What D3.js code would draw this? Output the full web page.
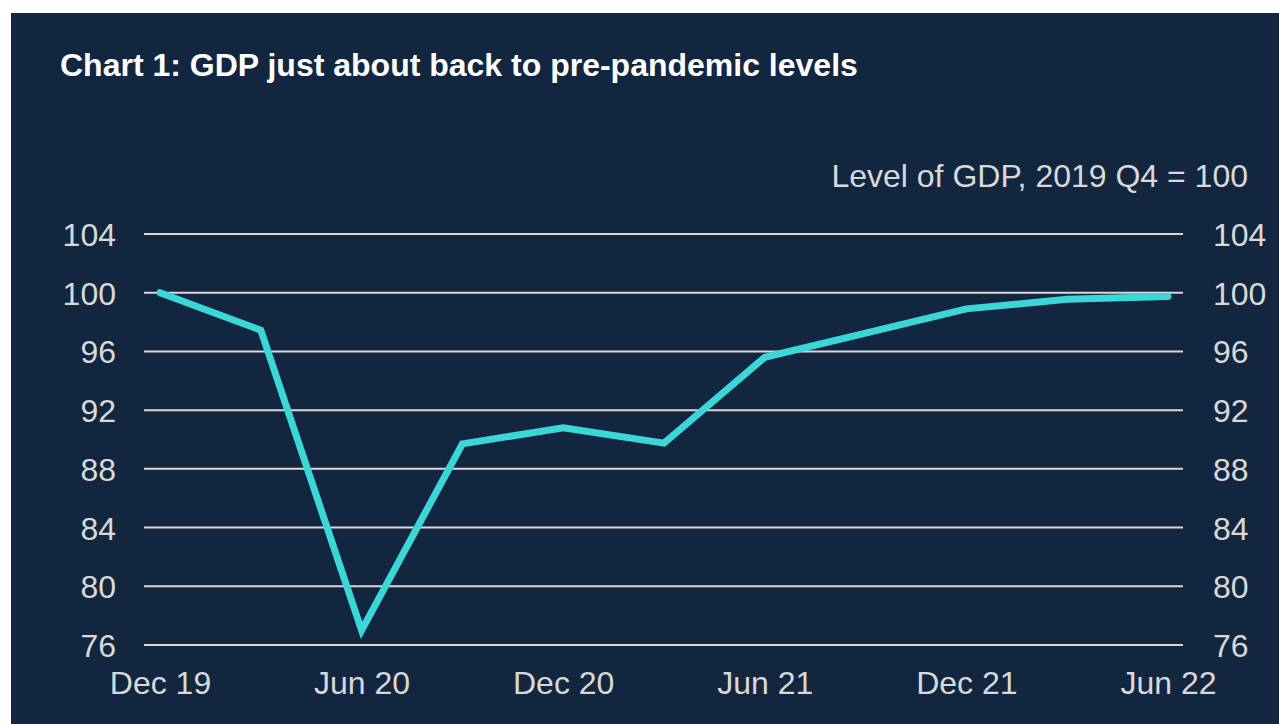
<!DOCTYPE html>
<html>
<head>
<meta charset="utf-8">
<script src="https://cdn.jsdelivr.net/npm/d3@7"></script>
<style>
  html, body { margin: 0; padding: 0; background: #ffffff; }
  svg { display: block; }
</style>
</head>
<body>
<svg id="chart" width="1279" height="724"></svg>
<script>
const categories = ["Dec 19","Mar 20","Jun 20","Sep 20","Dec 20","Mar 21","Jun 21","Sep 21","Dec 21","Mar 22","Jun 22"];
const gdpValues = [100.0, 97.45, 77.0, 89.7, 90.8, 89.75, 95.6, 97.25, 98.9, 99.55, 99.75];
const xTickLabels = ["Dec 19","Jun 20","Dec 20","Jun 21","Dec 21","Jun 22"];
const yTicks = [76, 80, 84, 88, 92, 96, 100, 104];
const titleText = "Chart 1: GDP just about back to pre-pandemic levels";
const unitText = "Level of GDP, 2019 Q4 = 100";

const svg = d3.select("#chart");
const W = 1279, H = 724;
const font = "'Liberation Sans', Arial, sans-serif";
const txtCol = "#d9d9d9";
const fs = 32;

svg.append("rect").attr("x", 11).attr("y", 13).attr("width", W - 11).attr("height", H - 13).attr("fill", "#13263f");

const gridLeft = 144, gridRight = 1183;
const x = d3.scalePoint().domain(categories).range([160, 1168]);
const y = d3.scaleLinear().domain([76, 104]).range([645, 234]);

// gridlines
const gGrid = svg.append("g");
gGrid.selectAll("line").data(yTicks).join("line")
  .attr("x1", gridLeft).attr("x2", gridRight)
  .attr("y1", d => y(d)).attr("y2", d => y(d))
  .attr("stroke", "#d9d9d9").attr("stroke-width", 2);

// axes
const leftAxis = svg.append("g").attr("transform", `translate(${gridLeft},0)`)
  .call(d3.axisLeft(y).tickValues(yTicks).tickSize(0).tickPadding(28));
const rightAxis = svg.append("g").attr("transform", `translate(${gridRight},0)`)
  .call(d3.axisRight(y).tickValues(yTicks).tickSize(0).tickPadding(30));
const bottomAxis = svg.append("g").attr("transform", `translate(0,${645})`)
  .call(d3.axisBottom(x).tickValues(xTickLabels).tickSize(0).tickPadding(26));

[leftAxis, rightAxis, bottomAxis].forEach(a => {
  a.select(".domain").remove();
  a.selectAll("text").attr("fill", txtCol).attr("font-family", font).attr("font-size", fs);
});
leftAxis.selectAll("text").attr("dy", "0.36em");
rightAxis.selectAll("text").attr("dy", "0.36em");

// line
const line = d3.line().x((d, i) => x(categories[i])).y(d => y(d));
svg.append("path").datum(gdpValues)
  .attr("d", line)
  .attr("fill", "none")
  .attr("stroke", "#3bd6d8")
  .attr("stroke-width", 7)
  .attr("stroke-linejoin", "miter")
  .attr("stroke-linecap", "round");

// title
svg.append("text").attr("x", 60).attr("y", 76)
  .attr("fill", "#ffffff").attr("font-family", font).attr("font-weight", "bold").attr("font-size", fs)
  .text(titleText);

// unit label
svg.append("text").attr("x", 1248).attr("y", 187).attr("text-anchor", "end")
  .attr("fill", txtCol).attr("font-family", font).attr("font-size", fs)
  .text(unitText);
</script>
</body>
</html>
